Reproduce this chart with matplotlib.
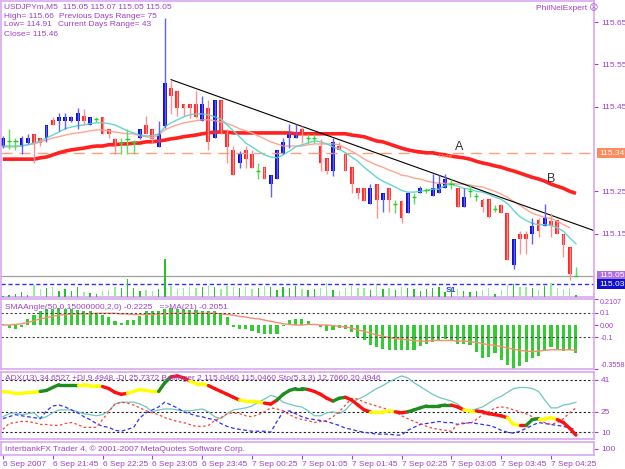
import matplotlib
matplotlib.use("Agg")
import matplotlib.pyplot as plt
import numpy as np

plt.rcParams["font.family"] = ["Liberation Sans", "DejaVu Sans"]

# ─────────────────────────────────────────
# Data (USDJPYm, M5, 6 Sep 21:05 -> 7 Sep 04:45)
# ─────────────────────────────────────────
opens = [
    115.357, 115.369, 115.369, 115.357, 115.364, 115.386, 115.376, 115.376, 115.419, 115.417,
    115.417, 115.417, 115.417, 115.429, 115.407, 115.421, 115.426, 115.398, 115.374, 115.364,
    115.374, 115.367, 115.376, 115.407, 115.398, 115.355, 115.405, 115.495, 115.486, 115.457,
    115.457, 115.457, 115.417, 115.448, 115.376, 115.467, 115.386, 115.348, 115.317, 115.348,
    115.338, 115.298, 115.307, 115.267, 115.279, 115.338, 115.376, 115.376, 115.398, 115.376,
    115.376, 115.357, 115.329, 115.298, 115.357, 115.338, 115.307, 115.257, 115.257, 115.219,
    115.267, 115.229, 115.257, 115.219, 115.226, 115.198, 115.236, 115.245, 115.252, 115.238,
    115.245, 115.257, 115.267, 115.257, 115.214, 115.250, 115.238, 115.229, 115.231, 115.207,
    115.217, 115.198, 115.076, 115.148, 115.148, 115.148, 115.183, 115.167, 115.179, 115.183,
    115.148, 115.119, 115.050]
highs = [
    115.381, 115.398, 115.376, 115.381, 115.386, 115.386, 115.376, 115.407, 115.426, 115.436,
    115.436, 115.429, 115.448, 115.445, 115.426, 115.426, 115.426, 115.398, 115.376, 115.376,
    115.398, 115.371, 115.398, 115.429, 115.398, 115.417, 115.660, 115.514, 115.486, 115.457,
    115.457, 115.486, 115.476, 115.467, 115.467, 115.467, 115.398, 115.357, 115.345, 115.357,
    115.348, 115.317, 115.307, 115.288, 115.348, 115.376, 115.410, 115.410, 115.405, 115.386,
    115.386, 115.374, 115.329, 115.376, 115.367, 115.338, 115.307, 115.257, 115.257, 115.267,
    115.267, 115.245, 115.257, 115.229, 115.229, 115.245, 115.245, 115.262, 115.257, 115.290,
    115.288, 115.290, 115.279, 115.257, 115.257, 115.267, 115.245, 115.233, 115.231, 115.217,
    115.221, 115.198, 115.138, 115.157, 115.157, 115.186, 115.186, 115.219, 115.198, 115.183,
    115.148, 115.119, 115.070]
lows = [
    115.352, 115.350, 115.348, 115.338, 115.362, 115.317, 115.357, 115.367, 115.407, 115.393,
    115.398, 115.414, 115.398, 115.407, 115.407, 115.414, 115.386, 115.376, 115.338, 115.338,
    115.338, 115.338, 115.374, 115.386, 115.364, 115.355, 115.400, 115.433, 115.429, 115.429,
    115.424, 115.424, 115.417, 115.348, 115.376, 115.386, 115.317, 115.288, 115.305, 115.305,
    115.305, 115.279, 115.279, 115.236, 115.279, 115.338, 115.352, 115.376, 115.364, 115.364,
    115.364, 115.298, 115.291, 115.286, 115.348, 115.298, 115.245, 115.231, 115.226, 115.219,
    115.186, 115.202, 115.202, 115.198, 115.176, 115.198, 115.219, 115.245, 115.245, 115.238,
    115.245, 115.257, 115.255, 115.214, 115.214, 115.236, 115.226, 115.200, 115.188, 115.200,
    115.198, 115.088, 115.067, 115.102, 115.102, 115.126, 115.143, 115.167, 115.143, 115.148,
    115.095, 115.041, 115.050]
closes = [
    115.376, 115.369, 115.369, 115.376, 115.376, 115.364, 115.364, 115.407, 115.407, 115.426,
    115.426, 115.426, 115.436, 115.417, 115.426, 115.421, 115.386, 115.386, 115.357, 115.364,
    115.374, 115.367, 115.398, 115.386, 115.374, 115.386, 115.507, 115.476, 115.448, 115.448,
    115.448, 115.426, 115.457, 115.367, 115.467, 115.390, 115.355, 115.288, 115.338, 115.326,
    115.305, 115.298, 115.279, 115.288, 115.348, 115.367, 115.386, 115.386, 115.386, 115.376,
    115.376, 115.317, 115.298, 115.367, 115.348, 115.298, 115.267, 115.245, 115.226, 115.257,
    115.229, 115.245, 115.229, 115.219, 115.188, 115.245, 115.236, 115.257, 115.252, 115.257,
    115.267, 115.279, 115.267, 115.214, 115.236, 115.250, 115.238, 115.214, 115.190, 115.207,
    115.198, 115.088, 115.138, 115.138, 115.138, 115.169, 115.157, 115.186, 115.167, 115.148,
    115.124, 115.055, 115.050]

ma_fast = [
    115.357, 115.357, 115.357, 115.357, 115.360, 115.364, 115.369, 115.376, 115.383, 115.390,
    115.398, 115.402, 115.405, 115.407, 115.410, 115.412, 115.412, 115.410, 115.407, 115.400,
    115.393, 115.388, 115.383, 115.381, 115.381, 115.386, 115.402, 115.412, 115.419, 115.426,
    115.431, 115.433, 115.433, 115.431, 115.426, 115.421, 115.407, 115.393, 115.379, 115.364,
    115.355, 115.345, 115.336, 115.331, 115.329, 115.336, 115.345, 115.355, 115.360, 115.364,
    115.369, 115.367, 115.362, 115.355, 115.350, 115.341, 115.331, 115.321, 115.307, 115.295,
    115.283, 115.274, 115.267, 115.260, 115.252, 115.248, 115.248, 115.250, 115.252, 115.255,
    115.255, 115.264, 115.267, 115.262, 115.257, 115.255, 115.250, 115.248, 115.243, 115.236,
    115.231, 115.221, 115.205, 115.190, 115.181, 115.174, 115.171, 115.171, 115.169, 115.164,
    115.155, 115.140, 115.126]
ma_mid = [
    115.355, 115.355, 115.355, 115.357, 115.360, 115.362, 115.367, 115.371, 115.376, 115.379,
    115.383, 115.386, 115.388, 115.390, 115.393, 115.395, 115.395, 115.393, 115.390, 115.388,
    115.386, 115.386, 115.381, 115.379, 115.376, 115.383, 115.395, 115.402, 115.407, 115.412,
    115.414, 115.417, 115.419, 115.419, 115.417, 115.414, 115.410, 115.405, 115.398, 115.393,
    115.388, 115.381, 115.374, 115.367, 115.362, 115.357, 115.357, 115.357, 115.357, 115.360,
    115.362, 115.362, 115.362, 115.362, 115.360, 115.352, 115.345, 115.336, 115.326, 115.319,
    115.312, 115.307, 115.300, 115.295, 115.288, 115.286, 115.281, 115.279, 115.274, 115.271,
    115.269, 115.269, 115.269, 115.267, 115.267, 115.264, 115.262, 115.260, 115.255, 115.250,
    115.243, 115.236, 115.226, 115.217, 115.207, 115.198, 115.193, 115.188, 115.186, 115.179,
    115.171, 115.164, np.nan]
ma_slow = [
    115.326, 115.326, 115.326, 115.326, 115.326, 115.326, 115.329, 115.331, 115.336, 115.341,
    115.345, 115.348, 115.350, 115.352, 115.355, 115.357, 115.357, 115.360, 115.360, 115.362,
    115.362, 115.364, 115.364, 115.367, 115.367, 115.369, 115.371, 115.374, 115.376, 115.379,
    115.381, 115.383, 115.386, 115.388, 115.390, 115.390, 115.390, 115.388, 115.388, 115.388,
    115.388, 115.388, 115.388, 115.388, 115.388, 115.388, 115.388, 115.386, 115.386, 115.386,
    115.386, 115.386, 115.386, 115.386, 115.386, 115.386, 115.383, 115.381, 115.379, 115.374,
    115.369, 115.367, 115.362, 115.357, 115.352, 115.348, 115.345, 115.343, 115.341, 115.341,
    115.338, 115.336, 115.333, 115.331, 115.329, 115.326, 115.321, 115.317, 115.314, 115.310,
    115.307, 115.302, 115.298, 115.293, 115.288, 115.283, 115.279, 115.274, 115.267, 115.262,
    115.257, 115.250, 115.245]

volume = [
    3, 5, 8, 12, 5, 30, 20, 22, 25, 15, 20, 15, 25, 12, 10, 8, 15, 18, 25, 22,
    45, 22, 15, 18, 15, 20, 95, 28, 20, 22, 25, 22, 25, 28, 25, 20, 28, 25, 22, 25,
    20, 22, 28, 25, 18, 25, 22, 28, 20, 18, 20, 22, 35, 18, 15, 22, 28, 22, 22, 18,
    30, 20, 22, 18, 25, 22, 20, 15, 20, 22, 25, 12, 22, 20, 15, 12, 15, 18, 22, 8,
    18, 30, 32, 25, 25, 22, 18, 28, 35, 22, 20, 22, 5]

sma_angle = [
    0.01, -0.02, -0.03, -0.015, 0.05, 0.08, 0.11, 0.13, 0.13, 0.14,
    0.13, 0.13, 0.12, 0.115, 0.115, 0.10, 0.08, 0.065, 0.03, 0.02,
    0.04, 0.04, 0.07, 0.11, 0.115, 0.11, 0.13, 0.14, 0.13, 0.13,
    0.12, 0.12, 0.115, 0.115, 0.11, 0.095, 0.065, -0.015, -0.03, -0.03,
    -0.045, -0.065, -0.07, -0.07, -0.075, -0.01, 0.04, 0.045, 0.05, 0.03,
    0.01, -0.015, -0.045, -0.04, -0.02, -0.03, -0.06, -0.10, -0.125, -0.165,
    -0.18, -0.19, -0.20, -0.205, -0.20, -0.205, -0.20, -0.17, -0.15, -0.14,
    -0.125, -0.11, -0.12, -0.15, -0.155, -0.165, -0.215, -0.27, -0.255, -0.23,
    -0.28, -0.32, -0.3558, -0.335, -0.30, -0.27, -0.25, -0.21, -0.18, -0.19,
    -0.21, -0.20, -0.2225]
sma_ma21 = [
    0.0, 0.0, 0.005, 0.01, 0.02, 0.035, 0.05, 0.06, 0.07, 0.08,
    0.085, 0.09, 0.09, 0.09, 0.09, 0.095, 0.095, 0.095, 0.095, 0.09,
    0.09, 0.085, 0.085, 0.085, 0.085, 0.09, 0.09, 0.095, 0.095, 0.095,
    0.095, 0.095, 0.095, 0.095, 0.095, 0.09, 0.085, 0.08, 0.07, 0.065,
    0.055, 0.05, 0.04, 0.03, 0.02, 0.01, 0.005, 0.0, 0.0, 0.005,
    0.005, 0.0, 0.0, -0.005, -0.01, -0.015, -0.025, -0.04, -0.05, -0.065,
    -0.08, -0.09, -0.10, -0.11, -0.115, -0.12, -0.125, -0.13, -0.13, -0.125,
    -0.125, -0.125, -0.125, -0.13, -0.13, -0.135, -0.14, -0.15, -0.16, -0.165,
    -0.175, -0.185, -0.195, -0.205, -0.21, -0.215, -0.21, -0.205, -0.20, -0.20,
    -0.20, -0.20, -0.2051]

adx = [
    40.0, 39.3, 38.6, 38.6, 39.3, 39.3, 40.0, 40.7, 42.9, 45.0,
    45.0, 45.0, 45.0, 45.0, 44.3, 44.3, 43.6, 42.1, 39.3, 37.9,
    38.6, 40.0, 41.4, 40.7, 40.0, 40.0, 46.4, 50.7, 51.4, 50.0,
    47.9, 45.7, 45.7, 44.3, 42.1, 40.0, 37.9, 35.7, 33.6, 32.9,
    32.9, 32.1, 31.4, 30.7, 33.6, 37.9, 40.7, 42.1, 42.1, 41.4,
    40.0, 37.9, 35.0, 32.9, 35.0, 35.7, 33.6, 30.0, 26.4, 25.0,
    25.0, 25.0, 25.7, 25.0, 24.3, 25.0, 26.4, 27.9, 29.3, 29.3,
    29.3, 30.0, 30.0, 28.6, 26.4, 25.7, 25.7, 25.0, 23.6, 22.9,
    22.1, 20.7, 15.7, 15.0, 15.0, 19.3, 20.0, 20.0, 20.7, 19.3,
    17.1, 12.9, 7.9]
adx_state = list("YYYYYYYGGGGGGYYYYRRRRYYYYYGGRRRYYYRRRRRYYYYRRGGGGGRRRRGGRRRRYYYYRR"
                 "GGGGGGGRRYYRRRRRYYRGGYYYRRR")
di_line = [
    21.4, 23.6, 24.3, 22.9, 23.6, 24.3, 20.0, 21.4, 24.3, 26.4,
    26.4, 26.4, 25.0, 23.6, 22.9, 22.1, 22.9, 25.7, 30.7, 32.1,
    32.1, 32.1, 30.7, 28.6, 25.0, 26.4, 27.1, 27.1, 26.4, 25.7,
    25.7, 26.4, 27.1, 25.0, 21.4, 20.0, 23.6, 26.4, 27.1, 27.9,
    29.3, 32.1, 34.3, 37.1, 35.7, 32.1, 30.7, 29.3, 28.6, 25.7,
    22.1, 22.1, 24.3, 25.0, 23.6, 26.4, 31.4, 34.3, 36.4, 39.3,
    42.1, 44.3, 47.1, 49.3, 51.4, 50.0, 46.4, 43.6, 40.7, 37.9,
    35.7, 34.3, 32.9, 30.7, 27.1, 25.7, 27.1, 28.6, 31.4, 34.3,
    36.4, 39.3, 42.1, 42.9, 42.9, 42.1, 40.0, 33.6, 27.9, 27.9,
    30.0, 30.7, 32.1]
sto_main = [
    20.0, 21.4, 22.9, 22.1, 21.4, 20.7, 20.0, 25.7, 29.3, 30.0,
    28.6, 26.4, 24.3, 21.4, 19.3, 16.4, 14.3, 13.6, 11.4, 10.7,
    12.1, 13.6, 20.7, 24.3, 26.4, 28.6, 32.1, 30.0, 27.9, 25.0,
    23.6, 22.1, 21.4, 20.0, 19.3, 16.4, 14.3, 12.9, 12.1, 11.4,
    10.7, 10.7, 10.7, 10.0, 17.9, 25.0, 25.7, 23.6, 21.4, 20.0,
    19.3, 18.6, 17.9, 16.4, 15.0, 12.9, 12.1, 10.7, 10.0, 9.3,
    8.6, 8.6, 8.6, 7.9, 7.9, 11.4, 13.6, 15.7, 16.4, 17.1,
    17.9, 17.1, 17.1, 15.7, 16.4, 17.1, 16.4, 15.7, 15.0, 13.6,
    11.4, 10.0, 9.3, 10.7, 12.9, 15.0, 17.1, 16.4, 15.7, 15.0,
    14.3, 12.9, 12.1]
sto_signal = [
    12.1, 16.4, 17.1, 17.9, 17.9, 17.1, 15.7, 15.7, 15.0, 15.0,
    16.4, 17.1, 15.7, 13.6, 13.6, 13.6, 19.3, 25.0, 30.7, 32.1,
    31.4, 30.0, 27.9, 25.7, 24.3, 22.9, 20.7, 19.3, 17.9, 17.1,
    15.7, 14.3, 14.3, 15.0, 18.6, 20.7, 23.6, 24.3, 23.6, 22.1,
    21.4, 22.9, 25.0, 27.9, 27.1, 25.7, 22.9, 20.7, 19.3, 18.6,
    17.1, 17.9, 18.6, 21.4, 25.0, 30.0, 35.0, 34.3, 32.1, 30.7,
    29.3, 27.9, 26.4, 25.0, 22.1, 20.0, 17.9, 16.4, 14.3, 12.9,
    12.1, 11.4, 10.7, 15.7, 17.1, 16.4, 19.3, 22.9, 25.0, 27.9,
    28.6, 27.9, 26.4, 25.0, 23.6, 21.4, 19.3, 17.1, 15.7, 17.1,
    20.0, 24.3, 27.9]

tick_pos = [0, 8, 16, 24, 32, 40, 48, 56, 64, 72, 80, 88]
tick_labels = ["6 Sep 2007", "6 Sep 21:45", "6 Sep 22:25", "6 Sep 23:05", "6 Sep 23:45",
               "7 Sep 00:25", "7 Sep 01:05", "7 Sep 01:45", "7 Sep 02:25", "7 Sep 03:05",
               "7 Sep 03:45", "7 Sep 04:25"]

price_ticks = [115.65, 115.55, 115.45, 115.25, 115.15]
pivot, s1, bid = 115.34, 115.03, 115.05
trend_x = [27, 94.9]
trend_y = [115.514, 115.157]

# ─────────────────────────────────────────
# Layout (pixel-based, 625 x 469)
# ─────────────────────────────────────────
W, H = 625, 469
PURPLE = "#A040C8"
FRAME = "#D8A8F0"
FS = 6

fig = plt.figure(figsize=(W / 100, H / 100), dpi=100)
fig.patch.set_facecolor("white")


def panel(top, bottom):
    a = fig.add_axes([1 / W, 1 - bottom / H, 593 / W, (bottom - top) / H])
    for s in a.spines.values():
        s.set_color(FRAME)
        s.set_linewidth(1.2)
    a.set_xlim(-0.3, 94.9)
    a.yaxis.tick_right()
    a.tick_params(axis="y", colors=PURPLE, labelsize=FS, length=3, pad=2, width=0.8)
    a.tick_params(axis="x", bottom=False, labelbottom=False)
    return a


ax = panel(1, 297)
ax2 = panel(299, 369)
ax3 = panel(372, 439)
ax4 = panel(442, 455)

idx = np.arange(len(opens))
O, Hh, L, C = map(np.array, (opens, highs, lows, closes))

# ── Main price window ──
ax.set_ylim(115.0, 115.70)
ax.set_yticks(price_ticks)
ax.set_yticklabels([f"{p:.2f}" for p in price_ticks])

ax.axhline(pivot, color="#FFA07A", lw=1, ls=(0, (8, 5)))
ax.axhline(bid, color="#A0A0A0", lw=0.9)
ax.axhline(s1, color="#3030FF", lw=1, ls=(0, (3, 2)))

# volume strip at the bottom of the price window
vax = ax.inset_axes([0, 0, 1, 0.142], sharex=ax)
vax.set_ylim(0, 105)
vax.axis("off")
vol_col = ["#22C322" if c >= o else "#98EE98" for o, c in zip(opens, closes)]
vax.bar(idx, volume, width=0.22, color=vol_col)

ax.plot(idx, ma_slow, color="#FF2020", lw=2.6, solid_capstyle="butt")
ax.plot(idx, ma_mid, color="#FFA590", lw=1)
ax.plot(idx, ma_fast, color="#60D8D0", lw=1)
ax.plot(trend_x, trend_y, color="black", lw=0.8)

for i in idx:
    if O[i] == C[i]:
        ax.vlines(i, L[i], Hh[i], color="#55E055", lw=1)
        ax.hlines(C[i], i - 0.35, i + 0.35, color="#22CC22", lw=1)
        continue
    bull = C[i] > O[i]
    ax.vlines(i, L[i], Hh[i], color="#6060FF" if bull else "#FF9090", lw=1)
    ax.bar(i, abs(C[i] - O[i]), bottom=min(O[i], C[i]), width=0.62,
           color="#1010C8" if bull else "#FF2828", lw=0)

ax.text(73.2, 115.355, "A", fontsize=9, color="#333333", ha="center", va="center")
ax.text(88.0, 115.279, "B", fontsize=9, color="#333333", ha="center", va="center")
ax.text(71.0, pivot - 0.012, "Pivot", fontsize=4.5, color="#FFA07A", ha="center")
ax.text(72.0, s1 - 0.006, "S1", fontsize=6, color="#3030FF", ha="center", va="top",
        fontweight="bold")

ytr = ax.get_yaxis_transform()
for val, bg in [(pivot, "#FF8A5C"), (bid, "#B070E0"), (s1, "#1010D0")]:
    ax.text(1.0 + 5 / 593, val, f"{val:.2f}", transform=ytr, fontsize=FS, color="white",
            va="center", ha="left",
            bbox=dict(facecolor=bg, edgecolor="none", pad=1.2))

hdr = [("USDJPYm,M5  115.05 115.07 115.05 115.05", 4, 7),
       ("High= 115.66", 4, 16), ("Previous Days Range= 75", 59, 16),
       ("Low= 114.91", 4, 25), ("Current Days Range= 43", 58, 25),
       ("Close= 115.46", 4, 34)]
for s, px, py in hdr:
    fig.text(px / W, 1 - py / H, s, fontsize=FS, color=PURPLE, va="center")
fig.text(536 / W, 1 - 8 / H, "PhilNelExpert \u2639", fontsize=FS, color=PURPLE, va="center")

# ── SMAAngle window ──
ax2.set_ylim(-0.3558, 0.2107)
ax2.bar(idx, sma_angle, width=0.5, color="#33CC33")
ax2.plot(idx, sma_ma21, color="#FA8A72", lw=1)
for lv in (0.1, -0.1):
    ax2.axhline(lv, color="#404040", lw=0.8, ls=(0, (2, 2)))
ax2.set_yticks([0.2107, 0.1, 0.0, -0.1, -0.3558])
ax2.set_yticklabels(["0.2107", "0.1", "0.00", "-0.1", "-0.3558"])
ax2.tick_params(axis="y", labelsize=5.2, pad=1.5)
tl = ax2.get_yticklabels()
tl[0].set_va("top")
tl[-1].set_va("bottom")
ax2.text(4 / 593, 0.93, "SMAAngle(50,0.15000000,2,0) -0.2225   =>MA(21) -0.2051",
         transform=ax2.transAxes, fontsize=FS, color=PURPLE, va="top")

# ── ADX / Stochastic window ──
ax3.set_ylim(5.0, 54.3)
for lv in (10, 25, 48.6):
    ax3.axhline(lv, color="#202020", lw=0.8, ls=(0, (2, 2)))
ax3.plot(idx, di_line, color="#70C8C0", lw=0.9)
ax3.plot(idx, sto_main, color="#3030FF", lw=0.9, ls=(0, (3, 2)))
ax3.plot(idx, sto_signal, color="#FF4030", lw=0.9, ls=(0, (2, 2)))
adx_colors = {"R": "#FF1010", "Y": "#FFFF00", "G": "#1E8C1E"}
for i in range(1, len(adx)):
    ax3.plot([i - 1, i], [adx[i - 1], adx[i]], color=adx_colors[adx_state[i]],
             lw=2.4, solid_capstyle="round")
ax3.set_yticks([48.6, 25, 10])
ax3.set_yticklabels(["41", "25", "10"])
ax3.text(4 / 593, 0.96, "ADX(13) 34.6527 +DI 9.4948 -DI 25.7372 Bollinger 2 115.0460 "
         "115.0460 Sto(5,3,3) 12.7660 20.4946",
         transform=ax3.transAxes, fontsize=FS, color=PURPLE, va="top")

# ── bottom window + time axis ──
ax4.set_ylim(0, 100)
ax4.set_yticks([50])
ax4.set_yticklabels(["100"])
ax4.text(4 / 593, 0.45, "InterbankFX Trader 4, \u00a9 2001-2007 MetaQuotes Software Corp.",
         transform=ax4.transAxes, fontsize=FS, color=PURPLE, va="center")
ax4.tick_params(axis="x", bottom=True, labelbottom=True, colors=PURPLE, labelsize=FS,
                length=3, pad=1, width=0.8)
ax4.set_xticks(tick_pos)
ax4.set_xticklabels(tick_labels, ha="left")

for a in (ax, ax2, ax3, ax4):
    a.set_xlim(-0.3, 94.9)

fig.savefig("out.png", dpi=100)
